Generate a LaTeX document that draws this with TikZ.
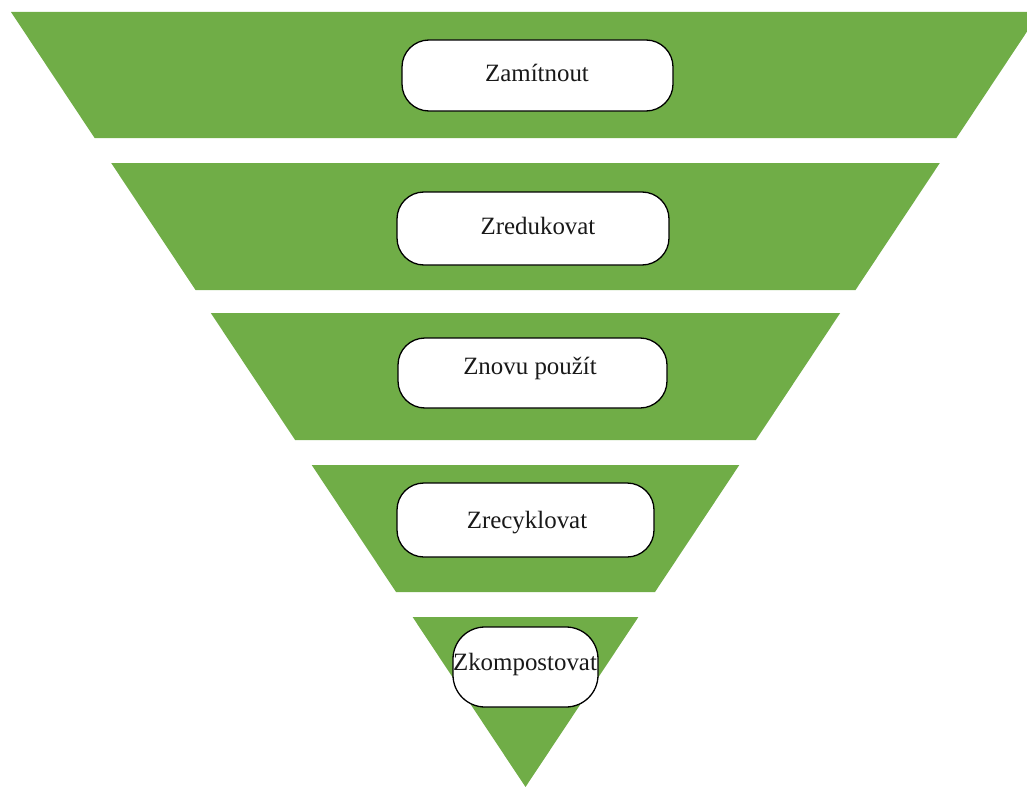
\documentclass[tikz,border=0pt]{standalone}
\usepackage{fontspec}
\setmainfont{Liberation Serif}
\definecolor{wgreen}{HTML}{70AD47}
\tikzset{
  band/.style={fill=wgreen, draw=none},
  pill/.style={draw=black, line width=1.3bp, fill=white, rounded corners=27bp, inner sep=0pt, outer sep=0pt},
  lbl/.style={font=\fontsize{25}{30}\selectfont, inner sep=0pt, text=black!90}
}
\begin{document}
\begin{tikzpicture}[x=1bp,y=-1bp]
\useasboundingbox (0,0) rectangle (1027,787);
% bands of the inverted pyramid
\fill[band] (11,12) -- (1040,12) -- (956.4,138) -- (94.6,138) -- cycle;
\fill[band] (111.2,163) -- (939.8,163) -- (855.5,290) -- (195.5,290) -- cycle;
\fill[band] (210.8,313) -- (840.2,313) -- (755.9,440) -- (295.1,440) -- cycle;
\fill[band] (311.7,465) -- (739.3,465) -- (655,592) -- (396,592) -- cycle;
\fill[band] (412.6,617) -- (638.4,617) -- (525.5,787) -- cycle;
% boxes
\node[pill, minimum width=271bp, minimum height=71bp] (b1) at (537.5,75.5) {};
\node[pill, minimum width=272bp, minimum height=73bp] (b2) at (533,228.5) {};
\node[pill, minimum width=269bp, minimum height=70bp] (b3) at (532.5,373) {};
\node[pill, minimum width=257bp, minimum height=74bp] (b4) at (525.5,520) {};
\node[pill, rounded corners=32bp, minimum width=145bp, minimum height=80bp] (b5) at (525.5,667) {};
% labels
\node[lbl] (t1) at (537,73) {Zamítnout};
\node[lbl] (t2) at (538,226) {Zredukovat};
\node[lbl] (t3) at (530,368) {Znovu použít};
\node[lbl] (t4) at (527,523) {Zrecyklovat};
\node[lbl] (t5) at (525,665) {Zkompostovat};
\end{tikzpicture}
\end{document}
